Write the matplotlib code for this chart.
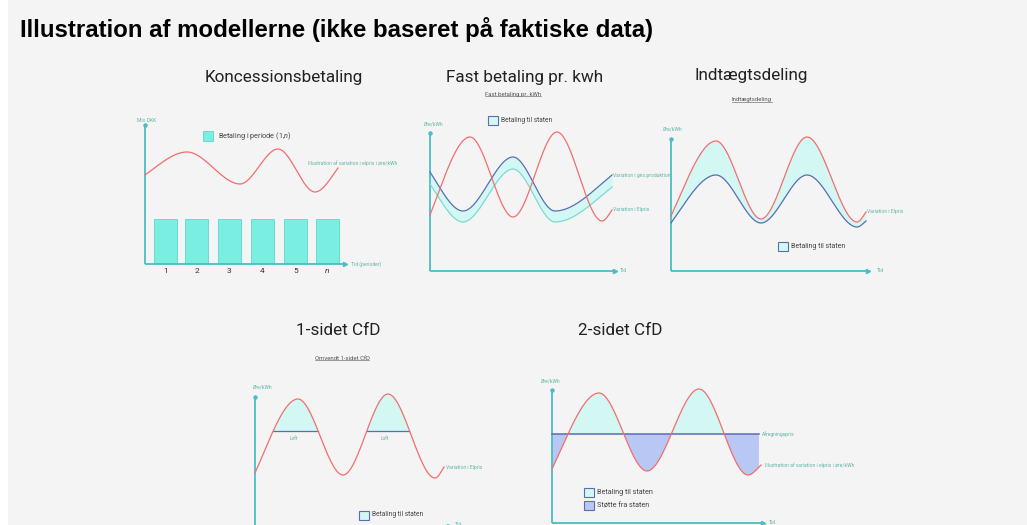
import numpy as np
import matplotlib
matplotlib.use("Agg")
import matplotlib.pyplot as plt
from matplotlib import font_manager
from matplotlib.patches import Rectangle

W, H = 1027, 525

plt.rcParams["font.family"] = ["Roboto", "DejaVu Sans"]
plt.rcParams["mathtext.fontset"] = "custom"
plt.rcParams["mathtext.it"] = "Roboto:italic"
plt.rcParams["mathtext.rm"] = "Roboto"

# Arial-lignende fed skrift til overskriften (ikke Narrow-varianten)
title_font = None
for f in font_manager.findSystemFonts():
    if f.endswith("LiberationSans-Bold.ttf"):
        title_font = font_manager.FontProperties(fname=f, size=17.3)
        break
if title_font is None:
    title_font = font_manager.FontProperties(family="DejaVu Sans", weight="bold", size=15.5)

# --- farver ---
TEAL = "#4cbcc6"
RED = "#f26e6e"
BLUE = "#5a6cb4"
CYAN_FILL = "#d3f8f3"
BAR_FILL = "#7aeee1"
BAR_EDGE = "#5fd6ca"
LAVENDER = "#b9c7f4"
LABEL_COL = "#5fb5a5"
BG = "#f4f4f4"

# --- data (illustrative forløb) ---
# Koncessionsbetaling
k_periods = ["1", "2", "3", "4", "5", r"$\it{n}$"]
k_bar_x = [20.5, 51.5, 84, 117.5, 150.5, 182.5]
k_bar_h = [44, 44, 44, 44, 44, 44]
k_price_x = [0, 42, 95, 133, 170, 193]
k_price_y = [89, 112, 80, 115, 72, 96]

# Fast betaling pr. kWh
f_price_x = [0, 40, 83, 127, 172, 182]
f_price_y = [56, 134, 54, 139, 50, 61]
f_prod_x = [0, 33, 83, 125, 182]
f_prod_y = [99, 60, 114, 60, 96]
f_low_y = [87, 49, 102, 49, 84]

# Indtægtsdeling
i_price_x = [0, 45, 90, 136, 186, 195]
i_price_y = [55, 130, 52, 134, 49, 59]
i_share_y = [48, 96, 48, 96, 44, 50]

# 1-sidet CfD
o_price_x = [0, 43, 88, 133, 180, 189]
o_price_y = [53, 127, 51, 132, 48, 59]
o_loft = 95

# 2-sidet CfD
t_price_x = [0, 47, 95, 147, 196, 209]
t_price_y = [54, 130, 52, 134, 48, 58]
t_strike = 89
t_strike_end = 207


def smooth(xk, yk, n=80, end_factor=1.3):
    """Glat kurve gennem toppe/dale (Hermite, vandret tangent i ekstrema)."""
    xk = np.asarray(xk, float)
    yk = np.asarray(yk, float)
    m = np.zeros_like(yk)
    for i in range(1, len(xk) - 1):
        d0 = (yk[i] - yk[i - 1]) / (xk[i] - xk[i - 1])
        d1 = (yk[i + 1] - yk[i]) / (xk[i + 1] - xk[i])
        m[i] = 0.0 if d0 * d1 <= 0 else 0.5 * (d0 + d1)
    m[0] = end_factor * (yk[1] - yk[0]) / (xk[1] - xk[0])
    m[-1] = end_factor * (yk[-1] - yk[-2]) / (xk[-1] - xk[-2])
    xs, ys = [], []
    for i in range(len(xk) - 1):
        t = np.linspace(0, 1, n, endpoint=(i == len(xk) - 2))
        h = xk[i + 1] - xk[i]
        h00 = 2 * t**3 - 3 * t**2 + 1
        h10 = t**3 - 2 * t**2 + t
        h01 = -2 * t**3 + 3 * t**2
        h11 = t**3 - t**2
        xs.append(xk[i] + t * h)
        ys.append(h00 * yk[i] + h10 * h * m[i] + h01 * yk[i + 1] + h11 * h * m[i + 1])
    return np.concatenate(xs), np.concatenate(ys)


def panel(fig, x0, y0, x_end, y_top):
    """Akse hvor 1 dataenhed = 1 pixel, origo i (x0, y0)."""
    ax = fig.add_axes([x0 / W, 1 - y0 / H, (x_end - x0) / W, (y0 - y_top) / H])
    ax.set_xlim(0, x_end - x0)
    ax.set_ylim(0, y0 - y_top)
    ax.axis("off")
    xmax, ymax = x_end - x0, y0 - y_top
    ax.plot([0, 0], [0, ymax], color=TEAL, lw=1.3, clip_on=False, solid_capstyle="butt")
    ax.plot([0, xmax], [0, 0], color=TEAL, lw=1.3, clip_on=False, solid_capstyle="butt")
    ax.plot(0, ymax, marker="o", ms=2.2, color=TEAL, clip_on=False)
    ax.plot(xmax, 0, marker=">", ms=3, color=TEAL, clip_on=False)
    return ax


def curve(ax, x, y, color, lw=0.9):
    ax.plot(x, y, color=color, lw=lw, clip_on=False)


def small(ax, x, y, s, size=3.6, ha="left"):
    ax.text(x, y, s, fontsize=size, color=LABEL_COL, ha=ha, va="center", clip_on=False)


def legend_box(ax, x, y, face, text, size=5.0):
    ax.add_patch(Rectangle((x, y - 4.5), 9.5, 9, facecolor=face, edgecolor=BLUE,
                           lw=0.8, clip_on=False))
    ax.text(x + 13, y, text, fontsize=size, color="#444444", va="center", clip_on=False)


fig = plt.figure(figsize=(W / 100, H / 100), dpi=100, facecolor="white")
fig.patches.append(Rectangle((8 / W, 0), 1, 1, transform=fig.transFigure,
                             facecolor=BG, edgecolor="none", zorder=-10))

fig.text(20 / W, 1 - 37 / H, "Illustration af modellerne (ikke baseret på faktiske data)",
         fontproperties=title_font, va="baseline")

big_titles = [("Koncessionsbetaling", 283.5, 82), ("Fast betaling pr. kwh", 525, 82),
              ("Indtægtsdeling", 751, 80), ("1-sidet CfD", 338, 335), ("2-sidet CfD", 620, 335)]
for s, x, y in big_titles:
    fig.text(x / W, 1 - y / H, s, fontsize=12.3, ha="center", va="baseline", color="#222222")

# --- Koncessionsbetaling ---
ax = panel(fig, 145, 264, 345, 125)
ax.bar(k_bar_x, k_bar_h, width=23, bottom=1, color=BAR_FILL, edgecolor=BAR_EDGE, lw=0.6)
px, py = smooth(k_price_x, k_price_y)
curve(ax, px, py, RED)
for x, lab in zip(k_bar_x, k_periods):
    ax.text(x, -7, lab, fontsize=6, color="#333333", ha="center", va="center")
small(ax, -8, 143, "Mio DKK")
small(ax, 206, 0, "Tid (perioder)")
small(ax, 163, 101, "Illustration af variation i elpris i øre/kWh")
ax.add_patch(Rectangle((58, 123), 10, 10, facecolor=BAR_FILL, edgecolor=BAR_EDGE,
                       lw=0.6, clip_on=False))
ax.text(73, 128, r"Betaling i periode (1,$\it{n}$)", fontsize=5.2, color="#444444",
        va="center", clip_on=False)

# --- Fast betaling pr. kWh ---
ax = panel(fig, 430, 271, 615, 133)
bx, by = smooth(f_prod_x, f_prod_y)
lx, ly = smooth(f_prod_x, f_low_y)
ax.fill_between(bx, ly, by, color=CYAN_FILL, lw=0, clip_on=False)
curve(ax, lx, ly, "#7fd9d3")
curve(ax, bx, by, BLUE)
px, py = smooth(f_price_x, f_price_y)
curve(ax, px, py, RED)
small(ax, -6, 147, "Øre/kWh")
small(ax, 190, 0, "Tid")
small(ax, 183, 96, "Variation i gns.produktion")
small(ax, 183, 61, "Variation i Elpris")
legend_box(ax, 58, 150.5, CYAN_FILL, "Betaling til staten", size=4.8)
sub = ax.text(83, 177, "Fast betaling pr. kWh", fontsize=4.3, color="#555555",
              ha="center", va="center", clip_on=False)
subs = [sub]

# --- Indtægtsdeling ---
ax = panel(fig, 671, 271, 868, 139)
px, py = smooth(i_price_x, i_price_y)
sx, sy = smooth(i_price_x, i_share_y)
ax.fill_between(px, sy, py, color=CYAN_FILL, lw=0, clip_on=False)
curve(ax, sx, sy, BLUE)
curve(ax, px, py, RED)
small(ax, -8, 142, "Øre/kWh")
small(ax, 206, 0, "Tid")
small(ax, 196, 59, "Variation i Elpris")
legend_box(ax, 107, 24.5, CYAN_FILL, "Betaling til staten", size=5.0)
subs.append(ax.text(81, 171, "Indtægtsdeling", fontsize=4.3, color="#555555",
                    ha="center", va="center", clip_on=False))

# --- 1-sidet CfD ---
ax = panel(fig, 255, 526, 449, 397)
px, py = smooth(o_price_x, o_price_y)
above = py >= o_loft
ax.fill_between(px, o_loft, py, where=above, color=CYAN_FILL, lw=0, clip_on=False)
curve(ax, px, np.where(above, o_loft, np.nan), BLUE)
curve(ax, px, py, RED)
small(ax, -2, 139, "Øre/kWh")
small(ax, 200, 2, "Tid")
small(ax, 191, 59, "Variation i Elpris")
for x in [39, 130]:
    small(ax, x, 88, "Loft", size=3.4, ha="center")
legend_box(ax, 104, 11, CYAN_FILL, "Betaling til staten", size=4.8)
subs.append(ax.text(87, 168, "Omvendt 1-sidet CfD", fontsize=4.3, color="#555555",
                    ha="center", va="center", clip_on=False))

# --- 2-sidet CfD ---
ax = panel(fig, 552, 523, 763, 390)
px, py = smooth(t_price_x, t_price_y)
inside = px <= t_strike_end
ax.fill_between(px, t_strike, py, where=(py >= t_strike) & inside, color=CYAN_FILL,
                lw=0, interpolate=True, clip_on=False)
ax.fill_between(px, t_strike, py, where=(py < t_strike) & inside, color=LAVENDER,
                lw=0, interpolate=True, clip_on=False)
curve(ax, [0, t_strike_end], [t_strike, t_strike], BLUE, lw=1.1)
curve(ax, px, py, RED)
small(ax, -11, 142, "Øre/kWh")
small(ax, 217, 1, "Tid")
small(ax, 210, t_strike, "Afregningspris")
small(ax, 213, 58, "Illustration af variation i elpris i øre/kWh")
legend_box(ax, 32, 30.5, CYAN_FILL, "Betaling til staten", size=5.2)
legend_box(ax, 32, 17.5, LAVENDER, "Støtte fra staten", size=5.2)

# understregning af undertitler
fig.canvas.draw()
inv = fig.transFigure.inverted()
for t in subs:
    bb = t.get_window_extent()
    (xa, ya), (xb, _) = inv.transform([(bb.x0, bb.y0), (bb.x1, bb.y0)])
    fig.add_artist(plt.Line2D([xa, xb], [ya + 0.5 / H, ya + 0.5 / H],
                              transform=fig.transFigure, color="#555555", lw=0.4))

fig.savefig("out.png", dpi=100, facecolor=fig.get_facecolor())
